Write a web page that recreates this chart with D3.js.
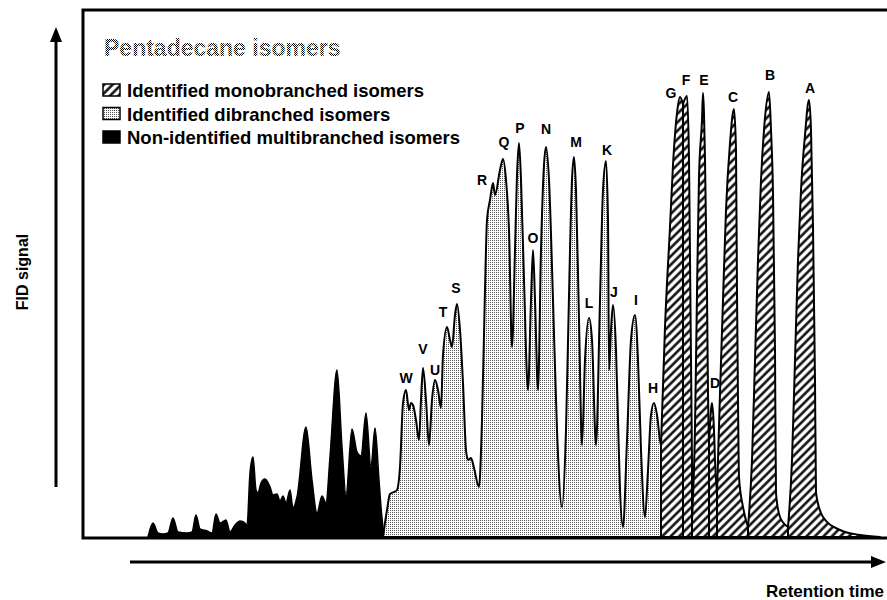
<!DOCTYPE html>
<html>
<head>
<meta charset="utf-8">
<script src="https://cdn.jsdelivr.net/npm/d3@7/dist/d3.min.js"></script>
<style>
  html, body { margin: 0; padding: 0; background: #fff; }
  svg { display: block; font-family: "Liberation Sans", Arial, Helvetica, sans-serif; }
</style>
</head>
<body>
<svg id="chart" width="887" height="600"></svg>
<script>
// Gas chromatogram of pentadecane isomers: retention time (min) vs FID signal (a.u.)

// Non-identified multibranched isomers (early eluting trace)
const multibranched = [
  [3.25, 0], [3.5, 2.8], [3.75, 0.8], [4.0, 0.6], [4.25, 0.8], [4.5, 3.8], [4.75, 1.0],
  [5.2, 0.8], [5.45, 1.0], [5.65, 4.4], [5.85, 1.6], [6.2, 1.2], [6.45, 0.8], [6.65, 4.6],
  [6.85, 2.8], [7.15, 3.4], [7.35, 1.0], [7.6, 2.4], [7.85, 3.2], [8.1, 2.8], [8.2, 2.2],
  [8.35, 12.8], [8.5, 16], [8.65, 9.4], [8.75, 8.8], [8.9, 10.8], [9.1, 11.6], [9.35, 10],
  [9.5, 8.4], [9.7, 8.6], [9.85, 7.2], [10.0, 8.2], [10.15, 6.8], [10.35, 9.4], [10.5, 5.8],
  [10.7, 8.0], [11.15, 22], [11.45, 11.4], [11.7, 4.8], [11.95, 8.2], [12.15, 6.8],
  [12.35, 16], [12.7, 33.4], [12.95, 18], [13.15, 8.4], [13.45, 21.6], [13.7, 17],
  [13.9, 16.2], [14.15, 24.8], [14.4, 14], [14.6, 21.8], [14.8, 11.4], [14.9, 6], [15.05, 0]
];

// Identified dibranched isomers (peaks W ... H)
const dibranched = [
  [15.0, 0], [15.2, 5.4], [15.35, 8.6], [15.55, 9], [15.7, 9.4], [15.85, 14], [16.0, 26.8],
  [16.15, 29.4], [16.3, 25.4], [16.4, 26.8], [16.5, 26.4], [16.65, 23.4], [16.8, 19.4],
  [16.9, 27.4], [17.0, 33.8], [17.15, 27.4], [17.3, 18.4],
  [17.45, 27.4], [17.6, 31.4], [17.75, 29.4], [17.9, 25.8],
  [18.0, 36.4], [18.2, 42], [18.35, 39.4], [18.45, 38],
  [18.6, 44.4], [18.7, 46.6], [18.85, 41.4], [19.0, 30.8], [19.15, 17.4], [19.25, 15.4],
  [19.4, 15.8], [19.55, 13.8], [19.8, 10],
  [19.95, 23.4], [20.1, 49.4], [20.2, 63.4], [20.35, 67.4], [20.5, 70.8], [20.6, 68.4],
  [20.85, 73.4], [21.0, 75.6], [21.15, 71.4], [21.3, 61.4], [21.45, 38],
  [21.6, 57.4], [21.7, 72.4], [21.8, 78.8], [21.9, 71.4], [22.05, 51.4], [22.25, 29.4],
  [22.4, 47.4], [22.5, 57.4], [22.6, 47.4], [22.75, 29.4],
  [22.9, 57.4], [23.05, 74.4], [23.15, 78], [23.3, 71.4], [23.5, 47.4], [23.7, 21.4], [23.95, 6],
  [24.15, 21.4], [24.35, 57.4], [24.45, 71.4], [24.55, 76], [24.65, 69.4], [24.8, 43.4], [24.95, 18.4],
  [25.1, 35.4], [25.3, 43.8], [25.45, 39.4], [25.65, 18.4],
  [25.85, 47.4], [26.0, 69.4], [26.15, 75.2], [26.25, 63.4], [26.3, 33.4],
  [26.4, 41.4], [26.5, 46.4], [26.65, 37.4], [26.75, 23.4], [26.85, 9.4], [27.0, 2],
  [27.2, 19.4], [27.4, 39.4], [27.6, 44.4], [27.75, 35.4], [27.9, 17.4], [28.1, 4],
  [28.25, 13.4], [28.4, 24.4], [28.55, 26.8], [28.7, 24.4], [28.85, 19.4], [28.9, 18.4]
];

// Identified monobranched isomers, one integrated peak each (G ... A)
const peakG = [[28.9, 18.4], [29.1, 42], [29.35, 62], [29.5, 74.4], [29.7, 84.8], [29.85, 88], [30.0, 86.6]];
const peakF = [[30.0, 86.6], [30.2, 88.2], [30.3, 75.4], [30.35, 55.4], [30.4, 35.4], [30.45, 15]];
const peakE = [[30.45, 3.4], [30.6, 22], [30.7, 48.8], [30.8, 72], [30.95, 83.4], [31.0, 88.8],
               [31.1, 75.4], [31.2, 48.8], [31.25, 28.8], [31.3, 18.8]];
const peakD = [[31.3, 18.8], [31.4, 25.4], [31.45, 26.8], [31.55, 21.4], [31.6, 15.4], [31.7, 8.8]];
const peakC = [[31.7, 8.8], [31.85, 28.8], [32.0, 47.4], [32.15, 65.4], [32.35, 78.8], [32.55, 85.6],
               [32.65, 77.4], [32.7, 48.8], [32.75, 27.4], [32.8, 12], [33.0, 6], [33.25, 2]];
const peakB = [[33.25, 2], [33.45, 15.4], [33.6, 35.4], [33.75, 55.4], [33.9, 71.4], [34.05, 81.4],
               [34.3, 89], [34.4, 81.4], [34.5, 68.8], [34.6, 37.4], [34.65, 8.8], [34.85, 4], [35.25, 2]];
const peakA = [[35.25, 2], [35.45, 15.4], [35.6, 35.4], [35.75, 55.4], [35.9, 69.4], [36.1, 80.4],
               [36.3, 87.4], [36.4, 81.4], [36.5, 62], [36.6, 31.4], [36.65, 8.8], [37.0, 4],
               [37.85, 1.4], [38.85, 0.4], [39.85, 0]];
const monobranched = [peakG, peakF, peakE, peakD, peakC, peakB, peakA];

// Peak letters and their anchor (retention time, signal)
const peakLetters = ["W", "V", "U", "T", "S", "R", "Q", "P", "N", "O", "M", "K", "L", "J", "I", "H",
                     "G", "F", "E", "D", "C", "B", "A"];
const letterTimes = [16.15, 17.0, 17.6, 18.0, 18.65, 19.95, 21.05, 21.85, 23.15, 22.5, 24.65, 26.2,
                     25.3, 26.55, 27.65, 28.5, 29.4, 30.15, 31.05, 31.6, 32.5, 34.35, 36.35];
const letterSignals = [30.8, 36.6, 32.4, 44, 48.8, 70.4, 78, 80.8, 80.6, 58.8, 78, 76.4,
                       45.8, 48, 46.4, 28.8, 87.8, 90.4, 90.4, 29.8, 87, 91.4, 88.8];

const chartTitle = "Pentadecane isomers";
const legendLabels = ["Identified monobranched isomers", "Identified dibranched isomers",
                      "Non-identified multibranched isomers"];
const xTitle = "Retention time";
const yTitle = "FID signal";

const svg = d3.select("#chart");
const defs = svg.append("defs");

// Fine stipple for the dibranched fill
const dots = defs.append("pattern").attr("id", "dots")
  .attr("patternUnits", "userSpaceOnUse").attr("width", 2).attr("height", 2);
dots.append("rect").attr("width", 2).attr("height", 2).attr("fill", "#fff");
dots.append("rect").attr("width", 1).attr("height", 1).attr("fill", "#555");

// Darker stipple for the title lettering
const stip = defs.append("pattern").attr("id", "stipple")
  .attr("patternUnits", "userSpaceOnUse").attr("width", 2).attr("height", 2);
stip.append("rect").attr("width", 2).attr("height", 2).attr("fill", "#fff");
stip.append("rect").attr("width", 1).attr("height", 1).attr("fill", "#000");
stip.append("rect").attr("x", 1).attr("y", 1).attr("width", 1).attr("height", 1).attr("fill", "#000");

// Diagonal hatching for the monobranched fill
const hatch = defs.append("pattern").attr("id", "hatch")
  .attr("patternUnits", "userSpaceOnUse").attr("width", 6).attr("height", 6)
  .attr("patternTransform", "rotate(45)");
hatch.append("rect").attr("width", 6).attr("height", 6).attr("fill", "#fff");
hatch.append("line").attr("x1", 1.5).attr("y1", -1).attr("x2", 1.5).attr("y2", 7)
  .attr("stroke", "#000").attr("stroke-width", 2.4);

// Scales
const x = d3.scaleLinear().domain([0, 40.2]).range([83, 887]);
const y = d3.scaleLinear().domain([0, 100]).range([537, 37]);

const area = d3.area()
  .x(d => x(d[0]))
  .y0(y(0))
  .y1(d => y(d[1]))
  .curve(d3.curveMonotoneX);

const plot = svg.append("g");

plot.append("path").datum(multibranched)
  .attr("d", area).attr("fill", "#000").attr("stroke", "#000")
  .attr("stroke-width", 1.5).attr("stroke-linejoin", "round");

plot.append("path").datum(dibranched)
  .attr("d", area).attr("fill", "url(#dots)").attr("stroke", "#000")
  .attr("stroke-width", 2).attr("stroke-linejoin", "round");

plot.selectAll("path.mono").data(monobranched).join("path")
  .attr("class", "mono")
  .attr("d", area).attr("fill", "url(#hatch)").attr("stroke", "#000")
  .attr("stroke-width", 2).attr("stroke-linejoin", "round");

// Peak letters
plot.selectAll("text.peak").data(peakLetters).join("text")
  .attr("class", "peak")
  .attr("x", (d, i) => x(letterTimes[i]))
  .attr("y", (d, i) => y(letterSignals[i]))
  .attr("text-anchor", "middle")
  .attr("font-size", 14).attr("font-weight", "bold").attr("fill", "#000")
  .text(d => d);

// Plot frame (open beyond the right edge)
svg.append("path")
  .attr("d", `M${x.range()[1] + 5},${10} H83 V${y(0) + 1} H${x.range()[1] + 5}`)
  .attr("fill", "none").attr("stroke", "#000").attr("stroke-width", 3);

// Title and legend
svg.append("text").attr("x", 104).attr("y", 56)
  .attr("font-size", 23).attr("font-weight", "bold")
  .attr("fill", "url(#stipple)").text(chartTitle);

const legendFills = ["url(#hatch)", "url(#dots)", "#000"];
const legend = svg.append("g");
legendLabels.forEach((label, i) => {
  const yy = 84 + i * 23.5;
  legend.append("rect").attr("x", 103).attr("y", yy).attr("width", 17).attr("height", 12)
    .attr("fill", legendFills[i]).attr("stroke", "#000").attr("stroke-width", 1.5);
  legend.append("text").attr("x", 127).attr("y", yy + 13)
    .attr("font-size", 18.5).attr("font-weight", "bold").attr("fill", "#000").text(label);
});

// Axis arrows
const arrows = svg.append("g");
arrows.append("line").attr("x1", 56).attr("y1", 487).attr("x2", 56).attr("y2", 40)
  .attr("stroke", "#000").attr("stroke-width", 3);
arrows.append("path").attr("d", "M56,27 L50,42 L62,42 Z").attr("fill", "#000");
arrows.append("line").attr("x1", 130).attr("y1", 562).attr("x2", 872).attr("y2", 562)
  .attr("stroke", "#000").attr("stroke-width", 3);
arrows.append("path").attr("d", "M886,562 L871,556 L871,568 Z").attr("fill", "#000");

svg.append("text").attr("x", 884).attr("y", 597).attr("text-anchor", "end")
  .attr("font-size", 17).attr("font-weight", "bold").text(xTitle);

svg.append("text").attr("transform", "translate(28,272) rotate(-90)")
  .attr("text-anchor", "middle")
  .attr("font-size", 16).attr("font-weight", "bold").text(yTitle);
</script>
</body>
</html>
